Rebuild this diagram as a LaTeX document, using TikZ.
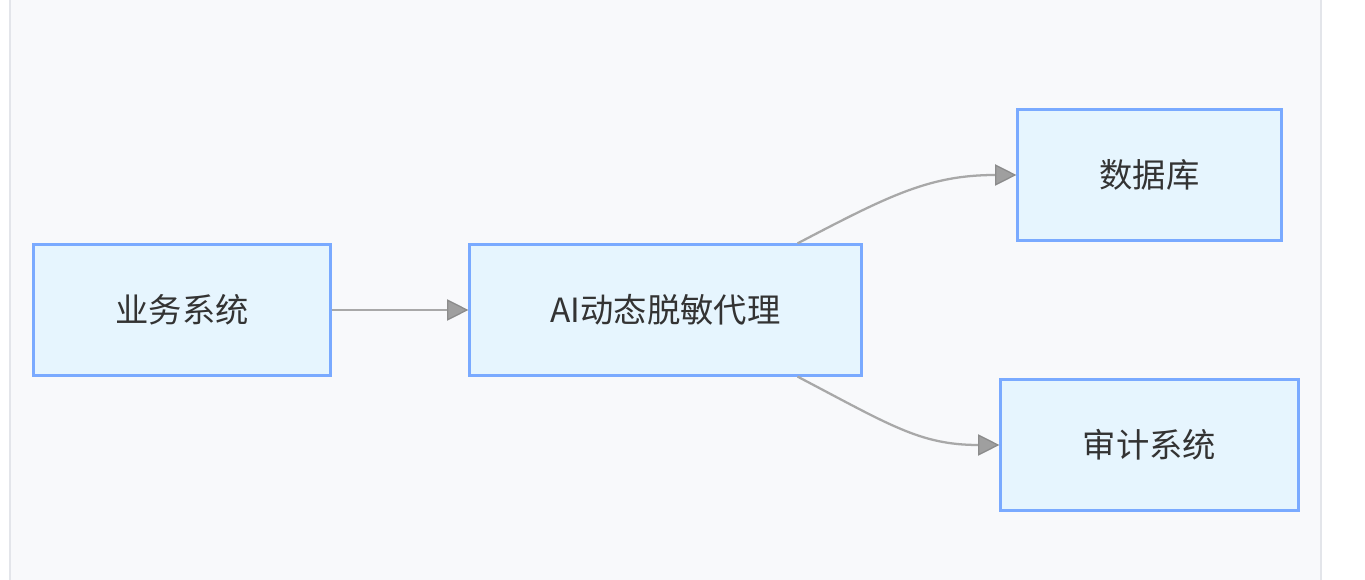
\documentclass[tikz,border=0pt]{standalone}
\usepackage{fontspec}
\usetikzlibrary{arrows.meta,positioning,calc}
\newfontfamily\cjk{Noto Sans CJK SC}
\definecolor{bgpanel}{HTML}{F8F9FB}
\definecolor{bgline}{HTML}{E3E5EA}
\definecolor{boxline}{HTML}{7AAAFF}
\definecolor{boxfill}{HTML}{E6F5FE}
\definecolor{textC}{HTML}{333333}
\definecolor{edgeC}{HTML}{A8A8A8}
\tikzset{
  sysbox/.style={rectangle, draw=boxline, line width=1.9pt, fill=boxfill, text=textC,
                 align=center, font=\cjk\fontsize{25}{29}\selectfont, minimum height=98pt},
  edge/.style={-{Triangle[length=16pt, width=16pt, fill=gray!75, color=gray!90, line width=1pt]},
               line width=1.7pt, draw=edgeC},
}
\begin{document}
\begin{tikzpicture}[x=0.75pt, y=-0.75pt]
    \useasboundingbox (0,0) rectangle (1365,580);
    \fill[bgpanel] (10,0) rectangle (1321,580);
    \draw[bgline, line width=1pt] (10,0) -- (10,580) (1321,0) -- (1321,580);
    \node[sysbox, minimum width=222.5pt] (biz) at (182,310) {业务系统};
    \node[sysbox, minimum width=293.75pt] (proxy) at (665.5,310) {AI动态脱敏代理};
    \node[sysbox, minimum width=197.75pt] (db) at (1149.5,175) {数据库};
    \node[sysbox, minimum width=223.25pt] (audit) at (1149.5,445) {审计系统};
    \coordinate (pn) at ($(proxy.north west)!0.835!(proxy.north east)$);
    \coordinate (ps) at ($(proxy.south west)!0.835!(proxy.south east)$);
    \draw[edge] (biz) -- (proxy);
    \draw[edge] (pn) .. controls (890,195) and (930,175) .. (db.west);
    \draw[edge] (ps) .. controls (890,425) and (920,445) .. (audit.west);
  \end{tikzpicture}
\end{document}
